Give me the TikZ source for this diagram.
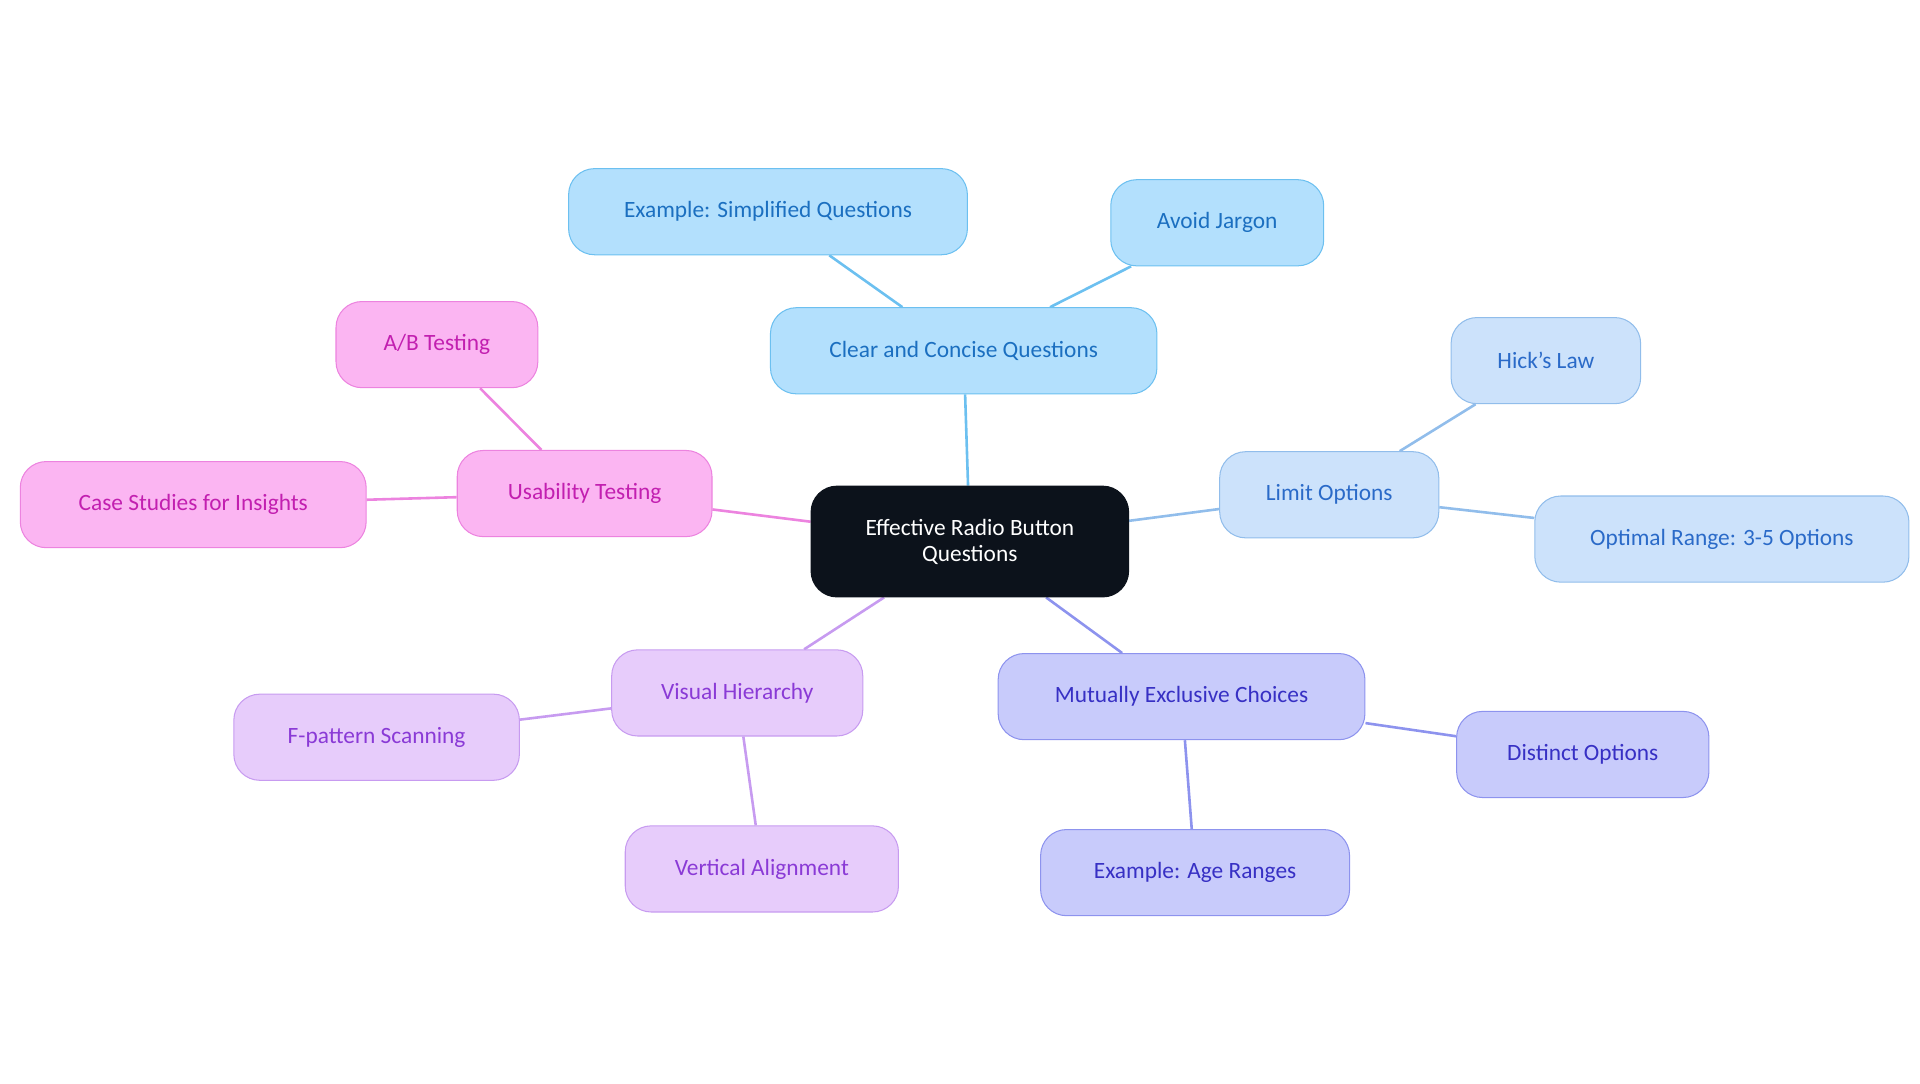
\documentclass[tikz,border=0pt]{standalone}
\usepackage{fontspec}
\setmainfont{Carlito}
\usetikzlibrary{backgrounds}
\begin{document}
\begin{tikzpicture}[x=0.05cm,y=-0.05cm,
 box/.style={draw,line width=1.2pt,rounded corners=30pt,minimum height=70*0.05cm,inner sep=0pt,font=\fontsize{27}{30}\selectfont,align=center},
 sblue/.style={box,fill=cbf,draw=cbd,text=cbt},
 slight/.style={box,fill=clf,draw=cld,text=clt},
 sindigo/.style={box,fill=cmf,draw=cmd,text=cmt},
 sviolet/.style={box,fill=cvf,draw=cvd,text=cvt},
 spink/.style={box,fill=cuf,draw=cud,text=cut},
 ln/.style={line width=3pt}]
\definecolor{cbf}{HTML}{B3E0FD}\definecolor{cbd}{HTML}{6CC0F0}\definecolor{cbt}{HTML}{1B6FC0}
\definecolor{clf}{HTML}{CCE2FB}\definecolor{cld}{HTML}{91BDEB}\definecolor{clt}{HTML}{2A6AC8}
\definecolor{cmf}{HTML}{C8CBFB}\definecolor{cmd}{HTML}{8D93EE}\definecolor{cmt}{HTML}{3730C4}
\definecolor{cvf}{HTML}{E7CCFB}\definecolor{cvd}{HTML}{C79BF0}\definecolor{cvt}{HTML}{8A3AD6}
\definecolor{cuf}{HTML}{FBB5F2}\definecolor{cud}{HTML}{EC83DF}\definecolor{cut}{HTML}{C21FB0}
\definecolor{ctr}{HTML}{0C121B}
\useasboundingbox (0,0) rectangle (1560,880);
\node[box,fill=ctr,draw=ctr,text=white,minimum width=258*0.05cm,minimum height=90*0.05cm] (c) at (788,440) {Effective Radio Button\\Questions};
\node[sblue,minimum width=314*0.05cm] (clear) at (783,285) {Clear and Concise Questions};
\node[sblue,minimum width=324*0.05cm] (ex) at (624,172) {Example: Simplified Questions};
\node[sblue,minimum width=173*0.05cm] (av) at (989,181) {Avoid Jargon};
\node[slight,minimum width=178*0.05cm] (lim) at (1080,402) {Limit Options};
\node[slight,minimum width=154*0.05cm] (hick) at (1256,293) {Hick's Law};
\node[slight,minimum width=304*0.05cm] (opt) at (1399,438) {Optimal Range: 3-5 Options};
\node[sindigo,minimum width=298*0.05cm] (mut) at (960,566) {Mutually Exclusive Choices};
\node[sindigo,minimum width=205*0.05cm] (dis) at (1286,613) {Distinct Options};
\node[sindigo,minimum width=251*0.05cm] (age) at (971,709) {Example: Age Ranges};
\node[sviolet,minimum width=204*0.05cm] (vis) at (599,563) {Visual Hierarchy};
\node[sviolet,minimum width=232*0.05cm] (fp) at (306,599) {F-pattern Scanning};
\node[sviolet,minimum width=222*0.05cm] (ver) at (619,706) {Vertical Alignment};
\node[spink,minimum width=207*0.05cm] (us) at (475,401) {Usability Testing};
\node[spink,minimum width=164*0.05cm] (ab) at (355,280) {A/B Testing};
\node[spink,minimum width=281*0.05cm] (cs) at (157,410) {Case Studies for Insights};
\begin{scope}[on background layer]
\draw[ln,cbd] (c) -- (clear); \draw[ln,cbd] (clear) -- (ex); \draw[ln,cbd] (clear) -- (av);
\draw[ln,cld] (c) -- (lim); \draw[ln,cld] (lim) -- (hick); \draw[ln,cld] (lim) -- (opt);
\draw[ln,cmd] (c) -- (mut); \draw[ln,cmd] (mut) -- (dis); \draw[ln,cmd] (mut) -- (age);
\draw[ln,cvd] (c) -- (vis); \draw[ln,cvd] (vis) -- (fp); \draw[ln,cvd] (vis) -- (ver);
\draw[ln,cud] (c) -- (us); \draw[ln,cud] (us) -- (ab); \draw[ln,cud] (us) -- (cs);
\end{scope}
\end{tikzpicture}
\end{document}
